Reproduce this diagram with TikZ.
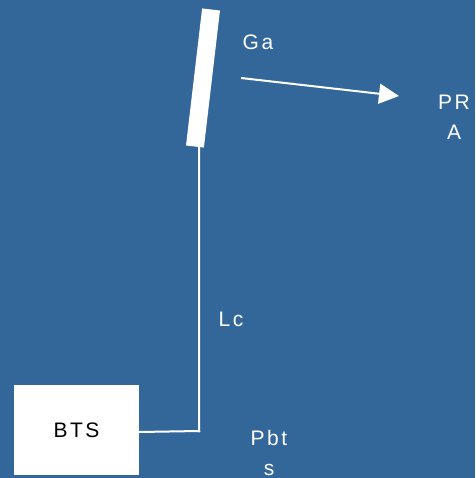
\documentclass[tikz,border=0pt]{standalone}
\usepackage{fontspec}
\setmainfont{Liberation Sans}[LetterSpace=12]
\usetikzlibrary{arrows.meta}
\definecolor{bgblue}{RGB}{51,102,153}
\begin{document}
\begin{tikzpicture}[x=1pt,y=-1pt,
  lbl/.style={text=white,font=\fontsize{21}{30}\selectfont,inner sep=0pt},
  wire/.style={draw=white,line width=2pt}]
  \fill[bgblue] (0,0) rectangle (475,478);
  \useasboundingbox (0,0) rectangle (475,478);
  % base station box
  \node[fill=white,minimum width=125pt,minimum height=90pt,inner sep=0pt,
        text=black,font=\fontsize{21}{24}\selectfont] (bts) at (76.5,430) {BTS};
  % antenna panel
  \node[fill=white,minimum width=18pt,minimum height=138pt,inner sep=0pt,
        rotate=-6.7] (ant) at (203,78) {};
  \coordinate (corner) at (199,431);
  \draw[wire] (bts.east |- 0,432) -- (corner) -- (corner |- ant.south);
  \fill[white] (corner) circle (1.5pt);
  % radiation direction
  \coordinate (ga) at (241,78);
  \coordinate (pra) at (399,96);
  \draw[wire,-{Triangle[length=20pt,width=20pt]}] (ga) -- (pra);
  % labels
  \node[lbl] (tga) at (258,42) {Ga};
  \node[lbl,align=center] (tpra) at (454,117) {PR\\A};
  \node[lbl] (tlc) at (231,319) {Lc};
  \node[lbl,align=center] (tpbt) at (269,453) {Pbt\\s};
\end{tikzpicture}
\end{document}
